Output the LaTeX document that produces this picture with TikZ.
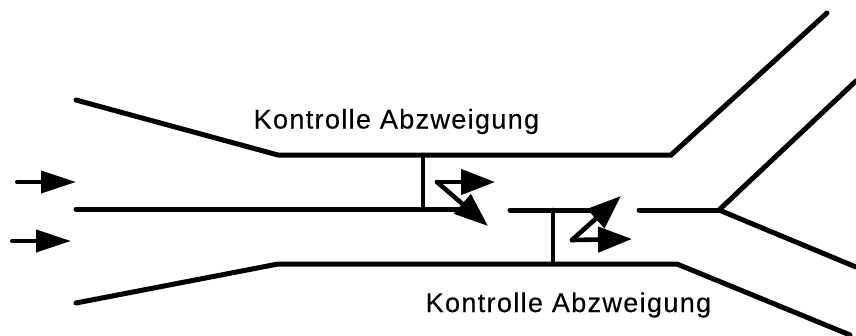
\documentclass[tikz,border=0pt]{standalone}
\usepackage{fontspec}
\setmainfont[LetterSpace=5,FakeBold=0.25]{Liberation Sans}
\usetikzlibrary{arrows.meta}
\tikzset{
  x=1pt,y=-1pt,
  wall/.style={line width=5pt,line cap=round,line join=miter,black},
  thinwall/.style={line width=4.6pt,line cap=round,black},
  flow/.style={line width=4pt,line cap=round,black,-{Triangle[length=35pt,width=22pt]}},
  flowshort/.style={line width=4.6pt,line cap=round,black,-{Triangle[length=34pt,width=25pt]}},
  label/.style={inner sep=0pt,font=\fontsize{27pt}{31pt}\selectfont,text=black}
}
\begin{document}
\begin{tikzpicture}
\useasboundingbox (0,0) rectangle (856,335);
\fill[white] (0,0) rectangle (856,335);
% walls
\coordinate (tl) at (76,100);
\coordinate (tb) at (278,155);
\coordinate (te) at (671,155);
\coordinate (tr) at (827,13);
\coordinate (ml) at (76,209);
\coordinate (mj) at (423,209);
\coordinate (me) at (458,209);
\coordinate (tj) at (423,155);
\coordinate (bl) at (76,303);
\coordinate (bb) at (278,264);
\coordinate (be) at (677,264);
\coordinate (br) at (850,335);
\coordinate (bj) at (553,264);
\coordinate (cl) at (510,210);
\coordinate (cj) at (553,210);
\coordinate (ce) at (592,210);
\coordinate (rl) at (639,210);
\coordinate (rj) at (719,210);
\coordinate (ru) at (856,81);
\coordinate (rd) at (856,267);
\draw[wall] (tl) -- (tb) -- (te) -- (tr);
\draw[wall] (bl) -- (bb) -- (be) -- (br);
\draw[wall] (ml) -- (me);
\draw[wall] (cl) -- (ce);
\draw[wall] (ru) -- (rj) -- (rd);
\draw[wall] (rl) -- (rj);
\draw[thinwall] (tj) -- (mj);
\draw[thinwall] (cj) -- (bj);
% flow arrows
\coordinate (a1s) at (17,182);
\coordinate (a1e) at (76,182);
\coordinate (a2s) at (12,241);
\coordinate (a2e) at (71,241);
\draw[flow] (a1s) -- (a1e);
\draw[flow] (a2s) -- (a2e);
\coordinate (k1) at (437,182);
\coordinate (k1a) at (495,182);
\coordinate (k1b) at (488,226);
\draw[flowshort] (k1) -- (k1a);
\draw[flowshort] (k1) -- (k1b);
\coordinate (k2) at (572,240);
\coordinate (k2a) at (632,239);
\coordinate (k2b) at (621,196);
\draw[flowshort] (k2) -- (k2a);
\draw[flowshort] (k2) -- (k2b);
% labels
\node[label,anchor=base west] (lab1) at (253.5,128.5) {Kontrolle Abzweigung};
\node[label,anchor=base west] (lab2) at (425.5,312) {Kontrolle Abzweigung};
\end{tikzpicture}
\end{document}
